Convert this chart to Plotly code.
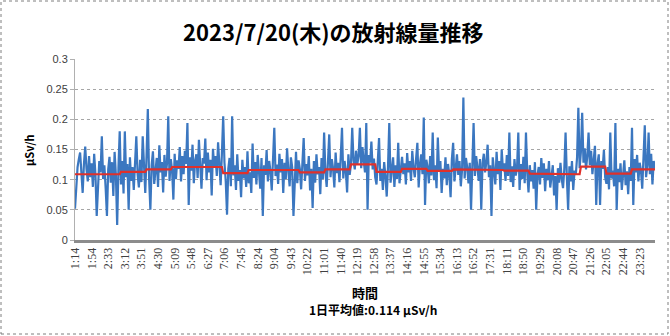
import plotly.graph_objects as go

# Dose rate readings (µSv/h), ~3-minute interval starting 1:14
dose = [
    0.052, 0.098, 0.121, 0.134, 0.145, 0.112, 0.078, 0.126, 0.155, 0.118, 0.097, 0.139, 0.104, 0.127, 0.088, 0.143, 0.109, 0.040, 0.093, 0.131,
    0.112, 0.172, 0.101, 0.124, 0.086, 0.040, 0.117, 0.138, 0.095, 0.129, 0.073, 0.146, 0.108, 0.025, 0.119, 0.180, 0.092, 0.131, 0.077, 0.180,
    0.104, 0.126, 0.050, 0.137, 0.098, 0.121, 0.083, 0.145, 0.172, 0.109, 0.087, 0.133, 0.096, 0.172, 0.114, 0.078, 0.139, 0.217, 0.102, 0.050,
    0.124, 0.147, 0.093, 0.118, 0.136, 0.088, 0.157, 0.112, 0.129, 0.079, 0.141, 0.105, 0.127, 0.205, 0.098, 0.134, 0.116, 0.067, 0.143, 0.101,
    0.132, 0.118, 0.154, 0.097, 0.139, 0.109, 0.148, 0.126, 0.194, 0.058, 0.137, 0.115, 0.158, 0.094, 0.131, 0.142, 0.103, 0.166, 0.119, 0.085,
    0.136, 0.127, 0.168, 0.099, 0.145, 0.112, 0.133, 0.074, 0.151, 0.121, 0.139, 0.106, 0.162, 0.118, 0.091, 0.144, 0.205, 0.128, 0.097, 0.042,
    0.118, 0.136, 0.089, 0.205, 0.107, 0.124, 0.083, 0.142, 0.098, 0.116, 0.071, 0.133, 0.102, 0.121, 0.088, 0.147, 0.094, 0.112, 0.078, 0.160,
    0.103, 0.129, 0.092, 0.141, 0.117, 0.085, 0.136, 0.040, 0.124, 0.108, 0.149, 0.097, 0.131, 0.114, 0.082, 0.138, 0.186, 0.106, 0.125, 0.093,
    0.143, 0.112, 0.134, 0.078, 0.128, 0.101, 0.152, 0.115, 0.089, 0.137, 0.121, 0.040, 0.109, 0.146, 0.094, 0.132, 0.118, 0.084, 0.127, 0.169,
    0.098, 0.126, 0.107, 0.139, 0.082, 0.118, 0.053, 0.131, 0.095, 0.142, 0.109, 0.121, 0.076, 0.136, 0.101, 0.178, 0.113, 0.088, 0.129, 0.175,
    0.104, 0.134, 0.119, 0.087, 0.145, 0.111, 0.128, 0.096, 0.138, 0.186, 0.102, 0.131, 0.114, 0.079, 0.142, 0.108, 0.125, 0.186, 0.132, 0.117,
    0.148, 0.126, 0.139, 0.186, 0.119, 0.154, 0.131, 0.112, 0.194, 0.050, 0.141, 0.128, 0.163, 0.117, 0.135, 0.104, 0.092, 0.127, 0.169, 0.098,
    0.118, 0.083, 0.129, 0.106, 0.072, 0.121, 0.194, 0.095, 0.113, 0.137, 0.088, 0.124, 0.101, 0.161, 0.094, 0.117, 0.138, 0.109, 0.127, 0.092,
    0.144, 0.112, 0.131, 0.098, 0.148, 0.119, 0.104, 0.135, 0.161, 0.087, 0.126, 0.142, 0.109, 0.203, 0.058, 0.133, 0.121, 0.094, 0.139, 0.107,
    0.178, 0.099, 0.124, 0.086, 0.170, 0.113, 0.131, 0.078, 0.118, 0.102, 0.137, 0.091, 0.126, 0.108, 0.071, 0.134, 0.161, 0.097, 0.122, 0.142,
    0.108, 0.131, 0.089, 0.117, 0.236, 0.102, 0.136, 0.121, 0.094, 0.128, 0.050, 0.115, 0.194, 0.106, 0.139, 0.121, 0.098, 0.134, 0.050, 0.127,
    0.143, 0.112, 0.129, 0.158, 0.104, 0.124, 0.040, 0.137, 0.118, 0.092, 0.146, 0.109, 0.131, 0.083, 0.150, 0.115, 0.127, 0.098, 0.141, 0.106,
    0.178, 0.096, 0.122, 0.088, 0.134, 0.107, 0.119, 0.178, 0.083, 0.126, 0.101, 0.138, 0.094, 0.178, 0.111, 0.079, 0.124, 0.097, 0.116, 0.085,
    0.129, 0.050, 0.108, 0.121, 0.092, 0.136, 0.103, 0.127, 0.081, 0.118, 0.099, 0.131, 0.087, 0.112, 0.124, 0.074, 0.106, 0.050, 0.119, 0.095,
    0.128, 0.101, 0.086, 0.117, 0.178, 0.104, 0.050, 0.122, 0.097, 0.131, 0.083, 0.115, 0.108, 0.137, 0.219, 0.119, 0.146, 0.211, 0.128, 0.152,
    0.117, 0.139, 0.178, 0.124, 0.148, 0.109, 0.133, 0.156, 0.058, 0.127, 0.142, 0.058, 0.131, 0.118, 0.149, 0.104, 0.093, 0.121, 0.084, 0.178,
    0.102, 0.115, 0.089, 0.194, 0.050, 0.118, 0.096, 0.127, 0.083, 0.109, 0.132, 0.091, 0.114, 0.076, 0.121, 0.098, 0.186, 0.058, 0.134, 0.112,
    0.141, 0.097, 0.128, 0.116, 0.085, 0.137, 0.190, 0.104, 0.123, 0.178, 0.109, 0.143, 0.092, 0.131, 0.118,
]

# Hourly averages for hours 1..23 (µSv/h)
hours = list(range(1, 24))
hourly_avg = [0.109, 0.109, 0.113, 0.117, 0.121, 0.121, 0.111, 0.116, 0.116, 0.112, 0.117, 0.1255,
              0.113, 0.118, 0.1145, 0.117, 0.116, 0.115, 0.110, 0.109, 0.1217, 0.110, 0.117]

tick_labels = ["1:14", "1:54", "2:33", "3:12", "3:51", "4:30", "5:09", "5:48", "6:27", "7:06",
               "7:45", "8:24", "9:04", "9:43", "10:22", "11:01", "11:40", "12:19", "12:58", "13:37",
               "14:16", "14:55", "15:34", "16:13", "16:52", "17:31", "18:11", "18:50", "19:29", "20:08",
               "20:47", "21:26", "22:05", "22:44", "23:23"]

start_minute = 74      # 1:14
step_minutes = 3
label_every = 13

n = len(dose)
x = list(range(n))
point_hour = [(start_minute + step_minutes * i) // 60 for i in x]
avg_line = [hourly_avg[hours.index(h)] for h in point_hour]

fig = go.Figure()
fig.add_trace(go.Scatter(x=x, y=dose, mode="lines",
                         line=dict(color="#3b77c0", width=2.2), showlegend=False))
fig.add_trace(go.Scatter(x=x, y=avg_line, mode="lines",
                         line=dict(color="#e0302a", width=2.2), showlegend=False))

L, R, T, B = 75, 15, 59, 96
W, H = 670, 336
pw, ph = W - L - R, H - T - B

def px(xp):
    return (xp - L) / pw

def py(yp):
    return (H - B - yp) / ph

fig.update_layout(
    width=W, height=H,
    margin=dict(l=L, r=R, t=T, b=B),
    paper_bgcolor="white", plot_bgcolor="white",
    xaxis=dict(
        range=[0, n - 1],
        tickmode="array",
        tickvals=[i * label_every for i in range(len(tick_labels))],
        ticktext=tick_labels,
        tickangle=-90,
        tickfont=dict(family="Liberation Serif", size=12, color="#404040"),
        showgrid=False, zeroline=False,
        showline=True, linecolor="#8c8c8c", linewidth=3,
        ticks="", ticklen=0,
    ),
    yaxis=dict(
        range=[0, 0.3],
        tickmode="array",
        tickvals=[0, 0.05, 0.1, 0.15, 0.2, 0.25, 0.3],
        ticktext=["0", "0.05", "0.1", "0.15", "0.2", "0.25", "0.3"],
        tickfont=dict(family="Liberation Sans", size=11, color="#404040"),
        showgrid=True, gridcolor="#a6a6a6", griddash="dot", gridwidth=1,
        zeroline=False,
        showline=True, linecolor="#b0b0b0", linewidth=1,
        ticks="outside", ticklen=4, tickcolor="#b0b0b0",
    ),
    annotations=[
        dict(text="<b>2023/7/20(木)の放射線量推移</b>", x=px(333), y=py(31),
             xref="paper", yref="paper", showarrow=False, xanchor="center", yanchor="middle",
             font=dict(family="Noto Sans CJK JP", size=22, color="#000000")),
        dict(text="<b>μSv/h</b>", x=px(29), y=py(150), textangle=-90,
             xref="paper", yref="paper", showarrow=False, xanchor="center", yanchor="middle",
             font=dict(family="Noto Sans CJK JP", size=11, color="#000000")),
        dict(text="<b>時間</b>", x=px(365), y=py(292),
             xref="paper", yref="paper", showarrow=False, xanchor="center", yanchor="middle",
             font=dict(family="Noto Sans CJK JP", size=13, color="#000000")),
        dict(text="<b>1日平均値:0.114 μSv/h</b>", x=px(373), y=py(309),
             xref="paper", yref="paper", showarrow=False, xanchor="center", yanchor="middle",
             font=dict(family="Noto Sans CJK JP", size=12, color="#000000")),
    ],
    shapes=[
        dict(type="rect", xref="paper", yref="paper",
             x0=px(1), x1=px(668), y0=py(334), y1=py(1),
             line=dict(color="#7f7f7f", width=1, dash="dot")),
    ],
)

fig.write_html("out.html")
